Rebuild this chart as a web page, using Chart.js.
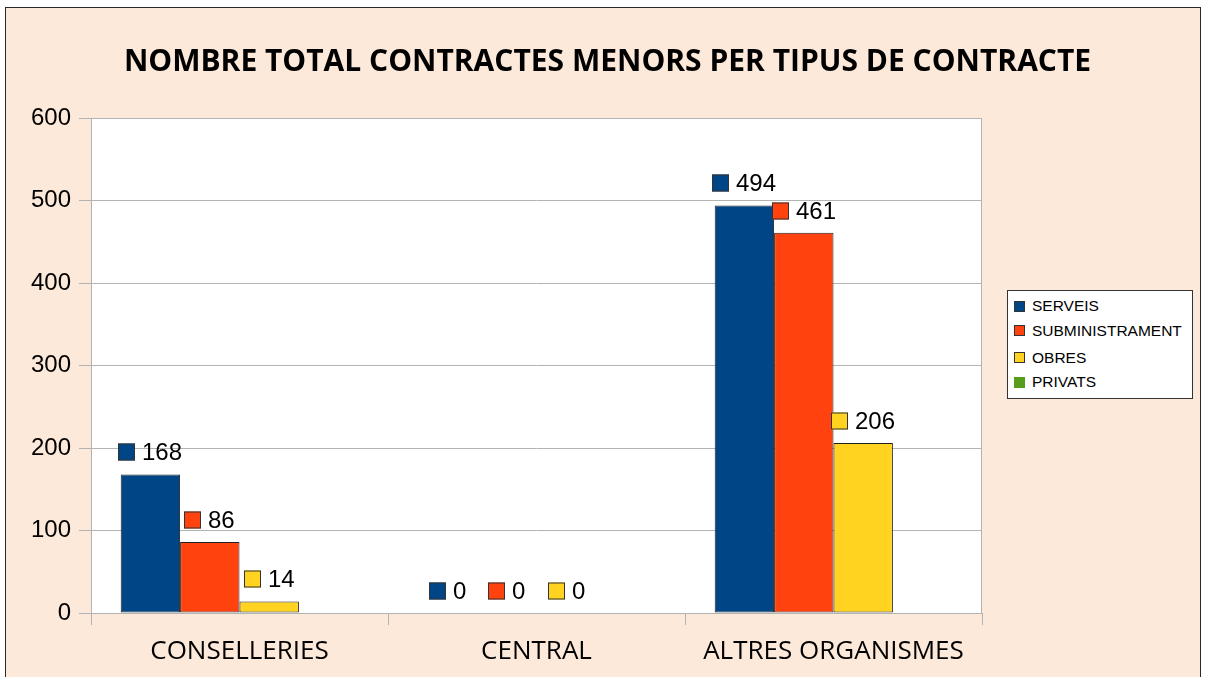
<!DOCTYPE html>
<html><head><meta charset="utf-8">
<script src="https://cdn.jsdelivr.net/npm/chart.js@4.4.0/dist/chart.umd.min.js"></script>
<style>
html,body{margin:0;padding:0;background:#fff;width:1206px;height:677px;overflow:hidden;}
#frame{position:absolute;left:5px;top:7px;width:1196px;height:700px;border:1px solid #2a2a2a;background:#fde9d9;box-sizing:border-box;}
#wrap{position:absolute;left:0;top:0;width:1206px;height:677px;}
#legend{position:absolute;left:1007px;top:290px;width:186px;height:109px;border:1px solid #333;background:#fff;box-sizing:border-box;font-family:"Liberation Sans";font-size:15.5px;color:#000;}
.item{position:absolute;left:6px;height:20px;display:flex;align-items:center;white-space:nowrap;}
.sw{width:11px;height:11px;box-sizing:border-box;border:1px solid #333;margin-right:7px;flex:none;}
</style>
</head><body>
<div id="frame"></div>
<div id="wrap"><canvas id="c" width="1206" height="677"></canvas></div>
<div id="legend"></div>
<script>
const TITLE = 'NOMBRE TOTAL CONTRACTES MENORS PER TIPUS DE CONTRACTE';
const categories = ['CONSELLERIES', 'CENTRAL', 'ALTRES ORGANISMES'];
const seriesNames = ['SERVEIS', 'SUBMINISTRAMENT', 'OBRES', 'PRIVATS'];
const serveis = [168, 0, 494];
const subministrament = [86, 0, 461];
const obres = [14, 0, 206];
const privats = [null, null, null];
const seriesColors = ['#004586', '#ff420e', '#ffd320', '#579d1c'];
const yTicks = [0, 100, 200, 300, 400, 500, 600];

const seriesValues = [serveis, subministrament, obres, privats];

const datasets = seriesNames.map((n, i) => ({
  label: n,
  data: seriesValues[i],
  backgroundColor: seriesColors[i],
  borderColor: '#222',
  borderWidth: ctx => (ctx.raw === 0 ? 0 : 1),
  borderSkipped: false,
  categoryPercentage: 0.8,
  barPercentage: 1.0
}));

const areaPlugin = {
  id: 'area',
  beforeDraw(chart) {
    const a = chart.chartArea, c = chart.ctx;
    c.save();
    c.fillStyle = '#fff';
    c.fillRect(a.left, a.top, a.right - a.left, a.bottom - a.top);
    c.restore();
  },
  beforeDatasetsDraw(chart) {
    const a = chart.chartArea, c = chart.ctx;
    c.save();
    c.strokeStyle = '#b3b3b3';
    c.lineWidth = 1;
    c.strokeRect(Math.round(a.left) + 0.5, Math.round(a.top) + 0.5, Math.round(a.right - a.left) - 1, Math.round(a.bottom - a.top));
    c.restore();
  }
};

const labelPlugin = {
  id: 'dl',
  afterDatasetsDraw(chart) {
    const c = chart.ctx;
    c.save();
    c.font = '24px "Liberation Sans"';
    c.textBaseline = 'middle';
    c.textAlign = 'left';
    chart.data.datasets.forEach((ds, i) => {
      const meta = chart.getDatasetMeta(i);
      meta.data.forEach((el, j) => {
        const v = ds.data[j];
        if (v === null || v === undefined) return;
        const txt = String(v);
        const tw = c.measureText(txt).width;
        const sq = 17, gap = 7;
        const w = sq + gap + tw;
        const x0 = Math.round(el.x - w / 2);
        const cy = Math.round(el.y - 22);
        c.fillStyle = ds.backgroundColor;
        c.fillRect(x0, cy - sq / 2, sq, sq);
        c.strokeStyle = '#333';
        c.lineWidth = 1;
        c.strokeRect(x0 + 0.5, cy - sq / 2 + 0.5, sq - 1, sq - 1);
        c.fillStyle = '#000';
        c.fillText(txt, x0 + sq + gap, cy + 1);
      });
    });
    c.restore();
  }
};

new Chart(document.getElementById('c'), {
  type: 'bar',
  data: { labels: categories, datasets },
  options: {
    responsive: false,
    animation: false,
    devicePixelRatio: 1,
    layout: { padding: { left: 9, right: 0, top: 0, bottom: 0 } },
    plugins: {
      legend: { display: false },
      tooltip: { enabled: false },
      title: {
        display: true, text: TITLE, color: '#000',
        font: { family: '"Open Sans"', size: 30, weight: 'bold' },
        padding: { top: 44.5, bottom: 37.5 }
      }
    },
    scales: {
      x: {
        grid: { offset: true, drawOnChartArea: false, drawTicks: true, tickLength: 12, color: '#b3b3b3' },
        border: { display: false },
        ticks: { font: { family: '"Open Sans"', size: 26 }, color: '#000', padding: 11 },
        afterFit: s => { s.height = 64; }
      },
      y: {
        min: 0, max: 600,
        afterBuildTicks: s => { s.ticks = yTicks.map(v => ({ value: v })); },
        ticks: { font: { family: '"Liberation Sans"', size: 24 }, color: '#000', padding: 8 },
        grid: { color: '#b3b3b3', tickLength: 12 },
        border: { display: false },
        afterFit: s => { s.width = 82; }
      },
      yR: {
        position: 'right', display: true,
        ticks: { display: false }, grid: { display: false }, border: { display: false },
        afterFit: s => { s.width = 224; }
      }
    }
  },
  plugins: [areaPlugin, labelPlugin]
});

const legend = document.getElementById('legend');
const rowCenters = [16, 40.5, 67.5, 92];
seriesNames.forEach((n, i) => {
  const it = document.createElement('div');
  it.className = 'item';
  it.style.top = (rowCenters[i] - 10 - 1) + 'px';
  const sw = document.createElement('span');
  sw.className = 'sw';
  sw.style.background = seriesColors[i];
  if (i === 3) sw.style.border = 'none';
  const t = document.createElement('span');
  t.textContent = n;
  it.appendChild(sw); it.appendChild(t);
  legend.appendChild(it);
});
</script>
</body></html>
